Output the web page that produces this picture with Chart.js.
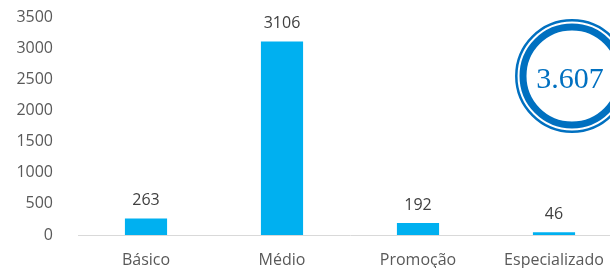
<!DOCTYPE html>
<html>
<head>
<meta charset="utf-8">
<script src="https://cdn.jsdelivr.net/npm/chart.js@4/dist/chart.umd.min.js"></script>
<style>
  html, body { margin: 0; padding: 0; overflow: hidden; background: #fff; }
  #wrap { width: 622px; height: 268px; }
</style>
</head>
<body>
<div id="wrap"><canvas id="cursosChart" width="622" height="268"></canvas></div>
<script>
const categorias = ['Básico', 'Médio', 'Promoção', 'Especializado'];
const quantidades = [263, 3106, 192, 46];
const totalTexto = '3.607';
const yMax = 3500;
const yPasso = 500;

// rótulos em cima das barras
const rotulosPlugin = {
  id: 'rotulos',
  afterDatasetsDraw(chart) {
    const ctx = chart.ctx;
    const meta = chart.getDatasetMeta(0);
    ctx.save();
    ctx.fillStyle = '#404040';
    ctx.font = '16px "Open Sans"';
    ctx.textAlign = 'center';
    ctx.textBaseline = 'bottom';
    meta.data.forEach((bar, i) => {
      ctx.fillText(String(quantidades[i]), bar.x, bar.y - 10);
    });
    ctx.restore();
  }
};

// selo com o total
const seloPlugin = {
  id: 'selo',
  afterDraw(chart) {
    const ctx = chart.ctx;
    const cx = 572, cy = 76;
    ctx.save();
    ctx.fillStyle = '#ffffff';
    ctx.beginPath();
    ctx.arc(cx, cy, 57, 0, Math.PI * 2);
    ctx.fill();
    ctx.strokeStyle = '#0070C0';
    ctx.lineWidth = 2.5;
    ctx.beginPath();
    ctx.arc(cx, cy, 55.7, 0, Math.PI * 2);
    ctx.stroke();
    ctx.lineWidth = 7;
    ctx.beginPath();
    ctx.arc(cx, cy, 49, 0, Math.PI * 2);
    ctx.stroke();
    ctx.fillStyle = '#0070C0';
    ctx.font = '30px "Liberation Serif"';
    ctx.textAlign = 'center';
    ctx.textBaseline = 'middle';
    ctx.fillText(totalTexto, cx - 2, cy + 4);
    ctx.restore();
  }
};

new Chart(document.getElementById('cursosChart'), {
  type: 'bar',
  data: {
    labels: categorias,
    datasets: [{
      data: quantidades,
      backgroundColor: '#00B0F0',
      borderWidth: 0,
      categoryPercentage: 1,
      barPercentage: 0.31
    }]
  },
  options: {
    responsive: false,
    animation: false,
    layout: { padding: { top: 17, left: 0, right: 0, bottom: 0 } },
    plugins: { legend: { display: false }, tooltip: { enabled: false } },
    scales: {
      x: {
        grid: { display: false },
        border: { display: true, color: '#d9d9d9', width: 1 },
        ticks: { color: '#595959', font: { family: 'Open Sans', size: 16 }, padding: 8, maxRotation: 0, autoSkip: false },
        afterFit(scale) { scale.height = 33; }
      },
      y: {
        min: 0,
        max: yMax,
        grid: { display: false },
        border: { display: false },
        ticks: {
          stepSize: yPasso,
          color: '#595959',
          font: { family: 'Open Sans', size: 16 },
          padding: 17,
          callback: (v) => String(v)
        },
        afterFit(scale) {
          scale.width = 78;
          scale.paddingTop = 0;
          scale.paddingBottom = 0;
        }
      }
    }
  },
  plugins: [rotulosPlugin, seloPlugin]
});
</script>
</body>
</html>
